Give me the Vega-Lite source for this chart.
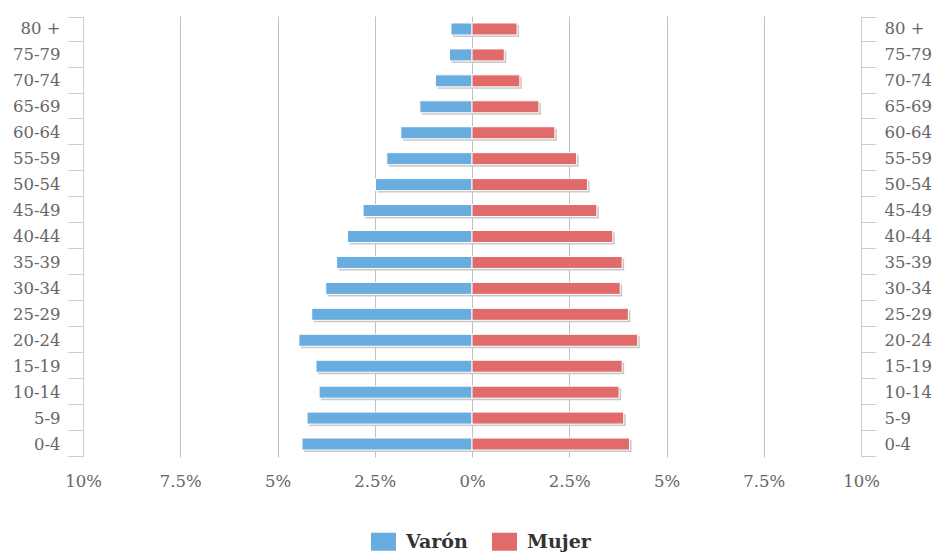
{
  "$schema": "https://vega.github.io/schema/vega-lite/v6.json",
  "width": 778,
  "height": 441,
  "autosize": {"type": "none"},
  "padding": {"left": 83, "top": 16, "right": 75, "bottom": 95},
  "background": "white",
  "config": {"font": "DejaVu Serif", "view": {"stroke": null}},
  "data": {"values": [
    {"age": "80 +", "sex": "Varón", "pct": -0.54}, {"age": "80 +", "sex": "Mujer", "pct": 1.16},
    {"age": "75-79", "sex": "Varón", "pct": -0.58}, {"age": "75-79", "sex": "Mujer", "pct": 0.83},
    {"age": "70-74", "sex": "Varón", "pct": -0.94}, {"age": "70-74", "sex": "Mujer", "pct": 1.23},
    {"age": "65-69", "sex": "Varón", "pct": -1.34}, {"age": "65-69", "sex": "Mujer", "pct": 1.72},
    {"age": "60-64", "sex": "Varón", "pct": -1.83}, {"age": "60-64", "sex": "Mujer", "pct": 2.13},
    {"age": "55-59", "sex": "Varón", "pct": -2.19}, {"age": "55-59", "sex": "Mujer", "pct": 2.69},
    {"age": "50-54", "sex": "Varón", "pct": -2.48}, {"age": "50-54", "sex": "Mujer", "pct": 2.97},
    {"age": "45-49", "sex": "Varón", "pct": -2.80}, {"age": "45-49", "sex": "Mujer", "pct": 3.21},
    {"age": "40-44", "sex": "Varón", "pct": -3.20}, {"age": "40-44", "sex": "Mujer", "pct": 3.62},
    {"age": "35-39", "sex": "Varón", "pct": -3.48}, {"age": "35-39", "sex": "Mujer", "pct": 3.86},
    {"age": "30-34", "sex": "Varón", "pct": -3.76}, {"age": "30-34", "sex": "Mujer", "pct": 3.81},
    {"age": "25-29", "sex": "Varón", "pct": -4.12}, {"age": "25-29", "sex": "Mujer", "pct": 4.02},
    {"age": "20-24", "sex": "Varón", "pct": -4.45}, {"age": "20-24", "sex": "Mujer", "pct": 4.26},
    {"age": "15-19", "sex": "Varón", "pct": -4.01}, {"age": "15-19", "sex": "Mujer", "pct": 3.86},
    {"age": "10-14", "sex": "Varón", "pct": -3.93}, {"age": "10-14", "sex": "Mujer", "pct": 3.78},
    {"age": "5-9", "sex": "Varón", "pct": -4.24}, {"age": "5-9", "sex": "Mujer", "pct": 3.90},
    {"age": "0-4", "sex": "Varón", "pct": -4.37}, {"age": "0-4", "sex": "Mujer", "pct": 4.05}
  ]},
  "layer": [
    {
      "mark": {"type": "bar", "size": 12, "color": "#c8c8c8", "xOffset": 2, "yOffset": 2},
      "encoding": {
        "y": {"field": "age", "type": "nominal", "sort": ["80 +","75-79","70-74","65-69","60-64","55-59","50-54","45-49","40-44","35-39","30-34","25-29","20-24","15-19","10-14","5-9","0-4"], "axis": null},
        "x": {"field": "pct", "type": "quantitative", "stack": null, "scale": {"domain": [-10, 10], "nice": false},
          "axis": {"values": [-10, -7.5, -5, -2.5, 0, 2.5, 5, 7.5, 10], "labelExpr": "format(abs(datum.value), '~g') + '%'", "ticks": false, "domain": false, "grid": true,
            "gridColor": "#c0c0c0", "gridOpacity": {"condition": {"test": "abs(datum.value) == 10", "value": 0}, "value": 1},
            "labelFontSize": 16.5, "labelColor": "#666666", "labelPadding": 16, "labelFlush": false, "labelOverlap": false, "title": null}}
      }
    },
    {
      "mark": {"type": "bar", "size": 12, "stroke": "white", "strokeWidth": 1},
      "encoding": {
        "y": {"field": "age", "type": "nominal", "sort": ["80 +","75-79","70-74","65-69","60-64","55-59","50-54","45-49","40-44","35-39","30-34","25-29","20-24","15-19","10-14","5-9","0-4"],
          "axis": {"orient": "left", "title": null, "tickBand": "extent", "tickSize": 15, "tickColor": "#c5cfdb", "domainColor": "#c5cfdb", "labelFontSize": 16.5, "labelColor": "#666666", "labelPadding": 8, "grid": false}},
        "x": {"field": "pct", "type": "quantitative", "stack": null, "scale": {"domain": [-10, 10], "nice": false},
          "axis": {"values": [-10, -7.5, -5, -2.5, 0, 2.5, 5, 7.5, 10], "labelExpr": "format(abs(datum.value), '~g') + '%'", "ticks": false, "domain": false, "grid": true,
            "gridColor": "#c0c0c0", "gridOpacity": {"condition": {"test": "abs(datum.value) == 10", "value": 0}, "value": 1},
            "labelFontSize": 16.5, "labelColor": "#666666", "labelPadding": 16, "labelFlush": false, "labelOverlap": false, "title": null}},
        "color": {"field": "sex", "type": "nominal", "scale": {"domain": ["Varón", "Mujer"], "range": ["#68ACE0", "#E06B6A"]},
          "legend": {"orient": "none", "legendX": 291, "legendY": 516, "direction": "horizontal", "title": null, "symbolType": "M-1.39,-1H1.39V1H-1.39Z", "symbolSize": 324, "symbolStrokeWidth": 0, "labelFontSize": 19, "labelFontWeight": "bold", "labelColor": "#333333", "labelOffset": 13, "columnPadding": 23}}
      }
    },
    {
      "mark": {"type": "rule", "opacity": 0},
      "encoding": {
        "y": {"field": "age", "type": "nominal", "sort": ["80 +","75-79","70-74","65-69","60-64","55-59","50-54","45-49","40-44","35-39","30-34","25-29","20-24","15-19","10-14","5-9","0-4"],
          "axis": {"orient": "right", "title": null, "tickBand": "extent", "tickSize": 15, "tickColor": "#c5cfdb", "domainColor": "#c5cfdb", "labelFontSize": 16.5, "labelColor": "#666666", "labelPadding": 8, "grid": false}}
      }
    }
  ],
  "resolve": {"axis": {"y": "independent"}}
}
